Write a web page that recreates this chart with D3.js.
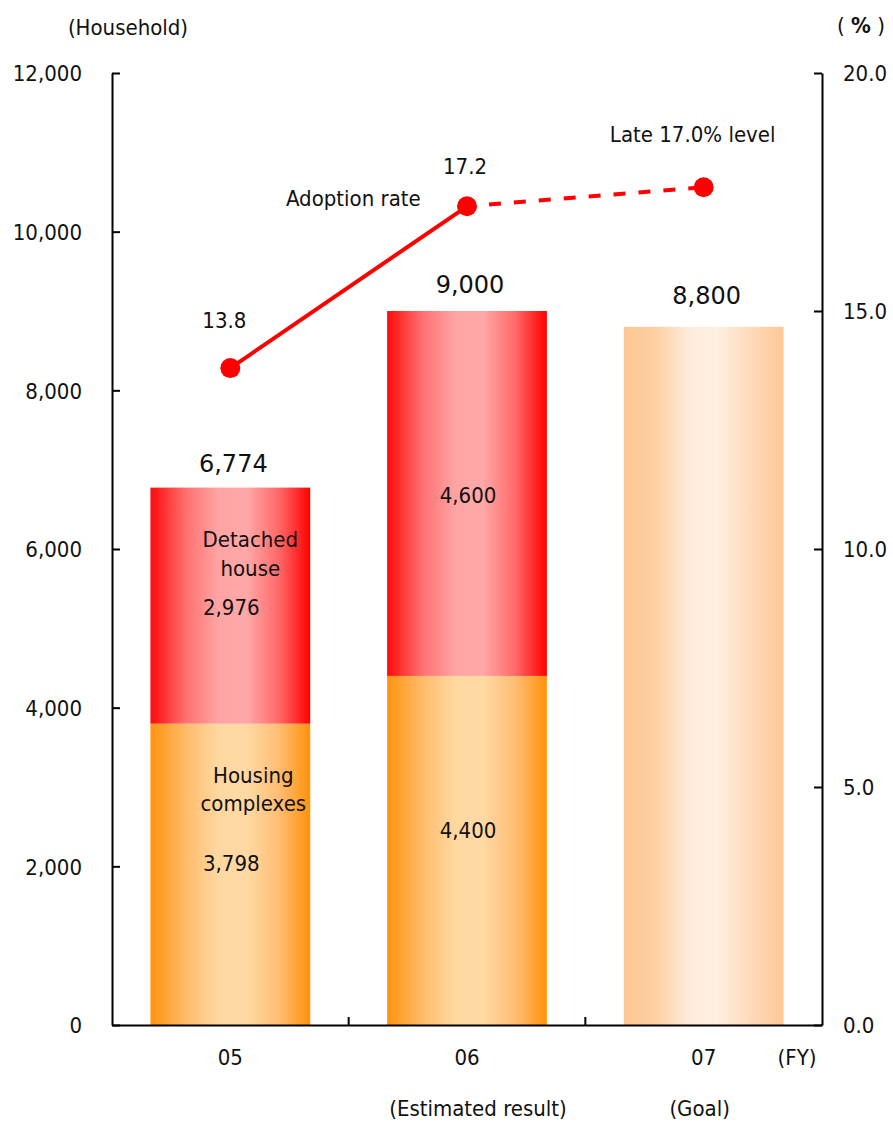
<!DOCTYPE html>
<html>
<head>
<meta charset="utf-8">
<script src="https://cdn.jsdelivr.net/npm/d3@7"></script>
<style>
  html, body { margin: 0; padding: 0; background: #fff; }
  svg text { font-family: "Liberation Sans Narrow", "Arial Narrow", "DejaVu Sans Condensed", sans-serif; fill: #111; }
  .total { font-family: "DejaVu Sans", sans-serif; }
</style>
</head>
<body>
<div id="chart"></div>
<script>
// Data
const years = ['05', '06', '07'];
const yearNotes = ['', '(Estimated result)', '(Goal)'];
const housing = [3798, 4400, null];
const detached = [2976, 4600, null];
const goal = [null, null, 8800];
const totals = [6774, 9000, 8800];
const rate = [13.8, 17.2, 17.6];
const rateLabels = ['13.8', '17.2', 'Late 17.0% level'];
const leftTicks = [0, 2000, 4000, 6000, 8000, 10000, 12000];
const rightTicks = [0, 5, 10, 15, 20];

const W = 893, H = 1124;
const margin = { top: 73, right: 71, bottom: 99, left: 112 };
const width = W - margin.left - margin.right;
const height = H - margin.top - margin.bottom;
const FS = '22px';

const root = d3.select('#chart').append('svg')
  .attr('width', W)
  .attr('height', H);

// Gradients
const defs = root.append('defs');
const gradients = {
  red: [[0, '#ff0a0a'], [0.22, '#ff7070'], [0.42, '#ffa3a3'], [0.6, '#ffa8a8'], [0.8, '#ff6a6a'], [1, '#ff0000']],
  orange: [[0, '#ff930c'], [0.22, '#ffbb6a'], [0.42, '#ffd8a0'], [0.6, '#ffd9a4'], [0.8, '#ffbe74'], [1, '#ff920a']],
  peach: [[0, '#fdc793'], [0.2, '#fdcfa2'], [0.4, '#feeadb'], [0.58, '#fef0e3'], [0.8, '#fed9b9'], [1, '#fdc894']]
};
Object.entries(gradients).forEach(([id, stops]) => {
  const g = defs.append('linearGradient').attr('id', 'g-' + id)
    .attr('x1', '0%').attr('x2', '100%').attr('y1', '0%').attr('y2', '0%');
  stops.forEach(([o, c]) => g.append('stop').attr('offset', o).attr('stop-color', c));
});

const svg = root.append('g')
  .attr('transform', `translate(${margin.left},${margin.top})`);

// Scales
const x = d3.scaleBand().domain(years).range([0, width]).padding(0);
const y = d3.scaleLinear().domain([0, 12000]).range([height, 0]);
const y2 = d3.scaleLinear().domain([0, 20]).range([height, 0]);
const barW = x.bandwidth() * 0.675;
const barX = (yr) => x(yr) + (x.bandwidth() - barW) / 2;
const cx = (yr) => x(yr) + x.bandwidth() / 2;

// Bars
const stackRows = years.map((yr, i) => ({ yr, housing: housing[i], detached: detached[i], goal: goal[i] }));

stackRows.filter((d) => d.housing != null).forEach((d) => {
  svg.append('rect')
    .attr('x', barX(d.yr)).attr('width', barW)
    .attr('y', y(d.housing)).attr('height', y(0) - y(d.housing))
    .attr('fill', 'url(#g-orange)');
  svg.append('rect')
    .attr('x', barX(d.yr)).attr('width', barW)
    .attr('y', y(d.housing + d.detached)).attr('height', y(d.housing) - y(d.housing + d.detached))
    .attr('fill', 'url(#g-red)');
});
stackRows.filter((d) => d.goal != null).forEach((d) => {
  svg.append('rect')
    .attr('x', barX(d.yr)).attr('width', barW)
    .attr('y', y(d.goal)).attr('height', y(0) - y(d.goal))
    .attr('fill', 'url(#g-peach)');
});

// Left axis
const yAxis = svg.append('g')
  .call(d3.axisLeft(y).tickValues(leftTicks).tickSize(-8).tickSizeOuter(0).tickPadding(30)
    .tickFormat(d3.format(',')));
yAxis.selectAll('text').style('font-size', FS).attr('dy', '0.36em');

// Right axis
const y2Axis = svg.append('g')
  .attr('transform', `translate(${width},0)`)
  .call(d3.axisRight(y2).tickValues(rightTicks).tickSize(-8).tickSizeOuter(0).tickPadding(21)
    .tickFormat(d3.format('.1f')));
y2Axis.selectAll('text').style('font-size', FS).attr('dy', '0.36em');

// Bottom axis
const xAxis = svg.append('g')
  .attr('transform', `translate(0,${height})`)
  .call(d3.axisBottom(x).tickSize(0).tickSizeOuter(0).tickPadding(32));
xAxis.selectAll('text').style('font-size', FS).attr('dy', '0.36em');

[root.selectAll('.domain'), root.selectAll('.tick line')].forEach((s) =>
  s.attr('stroke', '#000').attr('stroke-width', 2));

// Category boundary ticks
svg.append('g').selectAll('line')
  .data(years.slice(1))
  .join('line')
  .attr('x1', (d) => x(d)).attr('x2', (d) => x(d))
  .attr('y1', height).attr('y2', height - 8)
  .attr('stroke', '#000').attr('stroke-width', 2);

// Year notes
svg.append('g').selectAll('text')
  .data(years.map((yr, i) => ({ yr, note: yearNotes[i] })).filter((d) => d.note))
  .join('text')
  .attr('x', (d) => cx(d.yr) + (d.yr === '06' ? 11 : -4))
  .attr('y', height + 91)
  .attr('text-anchor', 'middle')
  .style('font-size', FS)
  .text((d) => d.note);

// Axis titles
svg.append('text').attr('x', 16).attr('y', -38).attr('text-anchor', 'middle')
  .style('font-size', FS).text('(Household)');
const pct = svg.append('text').attr('x', width + 39).attr('y', -40).attr('text-anchor', 'middle')
  .style('font-size', FS);
pct.append('tspan').text('( ');
pct.append('tspan').style('font-weight', 'bold').text('%');
pct.append('tspan').text(' )');
svg.append('text').attr('x', width - 25).attr('y', height + 40).attr('text-anchor', 'middle')
  .style('font-size', FS).text('(FY)');

// Totals
const totalOffsets = [16, 18, 23];
svg.append('g').selectAll('text')
  .data(years.map((yr, i) => ({ yr, v: totals[i], o: totalOffsets[i] })))
  .join('text')
  .attr('class', 'total')
  .attr('x', (d) => cx(d.yr) + 3)
  .attr('y', (d) => y(d.v) - d.o)
  .attr('text-anchor', 'middle')
  .style('font-size', '24px')
  .text((d) => d3.format(',')(d.v));

// Segment values
const segLabels = [];
stackRows.filter((d) => d.housing != null).forEach((d) => {
  segLabels.push({ yr: d.yr, v: d.housing, yv: d.yr === '05' ? 1940 : 2360 });
  segLabels.push({ yr: d.yr, v: d.detached, yv: d.yr === '05' ? 5170 : 6580 });
});
svg.append('g').selectAll('text')
  .data(segLabels)
  .join('text')
  .attr('x', (d) => cx(d.yr) + 1)
  .attr('y', (d) => y(d.yv))
  .attr('text-anchor', 'middle')
  .style('font-size', FS)
  .text((d) => d3.format(',')(d.v));

// Segment names
const nameLines = [
  { t: 'Detached', yr: '05', yv: 6025, dx: 20 },
  { t: 'house', yr: '05', yv: 5660, dx: 20 },
  { t: 'Housing', yr: '05', yv: 3050, dx: 23 },
  { t: 'complexes', yr: '05', yv: 2700, dx: 23 }
];
svg.append('g').selectAll('text')
  .data(nameLines)
  .join('text')
  .attr('x', (d) => cx(d.yr) + d.dx)
  .attr('y', (d) => y(d.yv))
  .attr('text-anchor', 'middle')
  .style('font-size', FS)
  .text((d) => d.t);

// Adoption rate line
const pts = years.map((yr, i) => ({ yr, v: rate[i] }));
const line = d3.line().x((d) => cx(d.yr)).y((d) => y2(d.v));
svg.append('path').datum(pts.slice(0, 2))
  .attr('d', line).attr('fill', 'none')
  .attr('stroke', '#ff0000').attr('stroke-width', 4);
svg.append('path').datum(pts.slice(1))
  .attr('d', line).attr('fill', 'none')
  .attr('stroke', '#ff0000').attr('stroke-width', 4)
  .attr('stroke-dasharray', '12,13').attr('stroke-dashoffset', -22);
svg.append('g').selectAll('circle')
  .data(pts)
  .join('circle')
  .attr('cx', (d) => cx(d.yr)).attr('cy', (d) => y2(d.v))
  .attr('r', 10).attr('fill', '#ff0000');

// Rate labels
const rateOffsets = [[-6, -40], [-2, -32], [-11, -45]];
svg.append('g').selectAll('text')
  .data(pts.map((p, i) => ({ ...p, t: rateLabels[i], o: rateOffsets[i] })))
  .join('text')
  .attr('x', (d) => cx(d.yr) + d.o[0])
  .attr('y', (d) => y2(d.v) + d.o[1])
  .attr('text-anchor', 'middle')
  .style('font-size', FS)
  .text((d) => d.t);

svg.append('text')
  .attr('x', cx('05') + 123).attr('y', y2(17.2))
  .attr('text-anchor', 'middle')
  .style('font-size', FS)
  .text('Adoption rate');
</script>
</body>
</html>
